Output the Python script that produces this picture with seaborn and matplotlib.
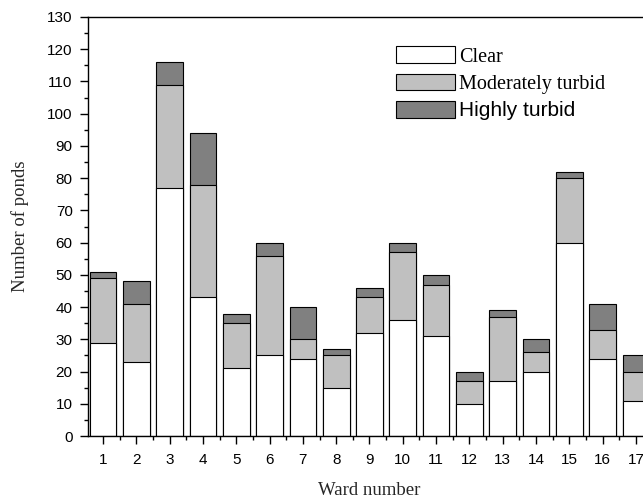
import numpy as np
import pandas as pd
import matplotlib
matplotlib.use("Agg")
import matplotlib.pyplot as plt
from matplotlib.ticker import MultipleLocator
from matplotlib.patches import Patch
import seaborn as sns

# Pond counts per ward, by water clarity class
wards = list(range(1, 18))
clear = [29, 23, 77, 43, 21, 25, 24, 15, 32, 36, 31, 10, 17, 20, 60, 24, 11]
moderately_turbid = [20, 18, 32, 35, 14, 31, 6, 10, 11, 21, 16, 7, 20, 6, 20, 9, 9]
highly_turbid = [2, 7, 7, 16, 3, 4, 10, 2, 3, 3, 3, 3, 2, 4, 2, 8, 5]
series_labels = ["Clear", "Moderately turbid", "Highly turbid"]
y_ticks = list(range(0, 131, 10))

df = pd.DataFrame({
    "ward": wards,
    "clear": clear,
    "moderate": moderately_turbid,
    "high": highly_turbid,
})
df["clear_mod"] = df["clear"] + df["moderate"]
df["total"] = df["clear_mod"] + df["high"]

sns.set_style("ticks")
plt.rcParams["font.family"] = ["Liberation Sans", "DejaVu Sans"]

fig = plt.figure(figsize=(6.43, 5.01), dpi=100)
ax = fig.add_axes([88 / 643, 65 / 501, 563 / 643, 419 / 501])

colors = ["white", "#c0c0c0", "#808080"]
edge = dict(edgecolor="black", linewidth=0.8)

# Stack drawn as overlaid cumulative bars: total, then clear+moderate, then clear
sns.barplot(data=df, x="ward", y="total", native_scale=True, width=0.8,
            color=colors[2], saturation=1, ax=ax, **edge)
sns.barplot(data=df, x="ward", y="clear_mod", native_scale=True, width=0.8,
            color=colors[1], saturation=1, ax=ax, **edge)
sns.barplot(data=df, x="ward", y="clear", native_scale=True, width=0.8,
            color=colors[0], saturation=1, ax=ax, **edge)

ax.set_xlim(0.55, 17.45)
ax.set_ylim(0, 130)
ax.set_xticks(wards)
ax.set_xticklabels([str(w) for w in wards])
ax.xaxis.set_minor_locator(MultipleLocator(1, offset=0.5))
ax.set_yticks(y_ticks)
ax.yaxis.set_minor_locator(MultipleLocator(5))

for side in ["left", "bottom", "top", "right"]:
    ax.spines[side].set_visible(True)
    ax.spines[side].set_linewidth(1.0)
    ax.spines[side].set_color("black")

ax.tick_params(which="major", direction="out", length=6, width=1.0,
               labelsize=11, colors="black", pad=5)
ax.tick_params(which="minor", direction="out", length=3, width=1.0, colors="black")
ax.tick_params(axis="x", which="major", pad=6)

ax.set_xlabel("Ward number", fontsize=13.5, family="Liberation Serif", labelpad=11)
ax.set_ylabel("Number of ponds", fontsize=13.5, family="Liberation Serif", labelpad=13)

handles = [Patch(facecolor=c, edgecolor="black", linewidth=0.8) for c in colors]
leg = ax.legend(handles, series_labels, loc="upper left",
                bbox_to_anchor=(0.533, 0.949), frameon=False,
                fontsize=14.5, handlelength=2.93, handleheight=0.875,
                handletextpad=0.2, labelspacing=0.36, borderaxespad=0)
leg_fams = ["Liberation Serif", "Liberation Serif", "Liberation Sans"]
for txt, fam in zip(leg.get_texts(), leg_fams):
    txt.set_family(fam)
    txt.set_color("black")
leg.get_texts()[2].set_fontsize(15)

fig.savefig("out.png", dpi=100, facecolor="white")
